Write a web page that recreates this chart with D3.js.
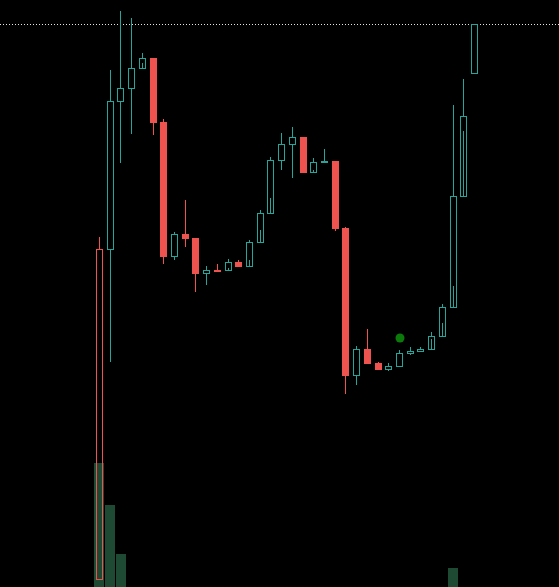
<!DOCTYPE html>
<html>
<head>
<meta charset="utf-8">
<script src="https://cdn.jsdelivr.net/npm/d3@7"></script>
<style>
  html, body { margin: 0; padding: 0; background: #000; }
  svg { display: block; }
</style>
</head>
<body>
<svg id="chart"></svg>
<script>
// price data, one entry per session
const opens  = [2.1, 35.1, 49.9, 51.2, 53.2, 54.2, 47.8, 34.4, 36.6, 36.2, 32.7, 33.0, 32.95, 33.8, 33.4, 35.8, 38.7, 44.0, 45.6, 46.3, 42.8, 43.8, 43.9, 37.2, 22.5, 25.1, 23.7, 23.1, 23.4, 24.7, 24.9, 25.1, 26.4, 29.3, 40.4, 52.7];
const highs  = [36.3, 53.0, 58.9, 58.2, 54.7, 54.2, 48.1, 36.8, 40.0, 36.2, 33.4, 33.6, 34.1, 34.0, 36.0, 39.0, 44.3, 46.7, 47.3, 46.3, 44.2, 45.1, 43.9, 37.3, 25.4, 27.1, 23.8, 23.7, 25.0, 25.3, 25.3, 26.8, 29.6, 49.5, 52.1, 57.6];
const lows   = [2.1, 23.8, 43.7, 46.6, 53.2, 46.5, 33.6, 34.0, 35.3, 30.8, 31.5, 32.9, 32.9, 33.3, 33.4, 35.8, 38.7, 43.0, 42.2, 42.8, 42.8, 43.7, 36.9, 20.6, 21.5, 23.7, 23.0, 22.9, 23.4, 24.5, 24.8, 25.1, 26.4, 29.3, 40.4, 52.7];
const closes = [35.1, 49.9, 51.2, 53.2, 54.2, 47.8, 34.4, 36.6, 36.2, 32.7, 33.0, 32.9, 33.8, 33.4, 35.8, 38.7, 44.0, 45.6, 46.3, 42.8, 43.8, 43.9, 37.2, 22.5, 25.1, 23.7, 23.1, 23.4, 24.7, 24.9, 25.1, 26.4, 29.3, 40.4, 48.4, 57.6];
// inner trace shown inside some hollow bodies (null = none)
const innerTops = [null, null, null, null, 53.7, null, null, null, null, null, null, null, 33.2, null, 34.0, 37.0, 40.2, null, null, null, 43.0, null, null, null, null, null, null, null, null, null, null, 26.1, 27.7, 31.4, 46.9, null];
const volumes = [124, 82, 33, 0, 0, 0, 0, 0, 0, 0, 0, 0, 0, 0, 0, 0, 0, 0, 0, 0, 0, 0, 0, 0, 0, 0, 0, 0, 0, 0, 0, 0, 0, 19, 0, 0];
const prevClose = 36.0;
const lastPrice = 57.6;
const marker = { index: 28, price: 26.2 };

const width = 559;
const height = 587;
const up = '#26a69a';
const down = '#ef5350';

const data = opens.map((o, i) => ({
  i,
  open: o,
  high: highs[i],
  low: lows[i],
  close: closes[i],
  inner: innerTops[i],
  volume: volumes[i],
  prev: i === 0 ? prevClose : closes[i - 1],
}));

const step = 375 / 35;
const x = d3.scaleBand()
  .domain(d3.range(data.length))
  .range([99.5 - step / 2, 99.5 - step / 2 + data.length * step])
  .paddingInner(0.06)
  .paddingOuter(0.03);
const y = d3.scaleLinear().domain([0, 60]).range([600, 0]);
const v = d3.scaleLinear().domain([0, 124]).range([height, 463]);

const svg = d3.select('#chart').attr('width', width).attr('height', height);
svg.append('rect').attr('width', width).attr('height', height).attr('fill', '#000');

// volume
svg.append('g')
  .attr('fill', '#1e4a33')
  .selectAll('rect')
  .data(data.filter(d => d.volume > 0))
  .join('rect')
  .attr('x', d => Math.round(x(d.i)))
  .attr('y', d => Math.round(v(d.volume)))
  .attr('width', Math.round(x.bandwidth()))
  .attr('height', d => v(0) - Math.round(v(d.volume)));

// last price line
svg.append('line')
  .attr('x1', 0).attr('x2', width)
  .attr('y1', Math.round(y(lastPrice)) + 0.5)
  .attr('y2', Math.round(y(lastPrice)) + 0.5)
  .attr('stroke', '#e6e6e6')
  .attr('stroke-dasharray', '1,2');

const cx = d => Math.round(x(d.i) + x.bandwidth() / 2 - 0.5) + 0.5;
const bodyW = 6;
const color = d => (d.close >= d.prev ? up : down);

const candles = svg.append('g').selectAll('g').data(data).join('g');

// wicks
candles.append('line')
  .attr('x1', cx).attr('x2', cx)
  .attr('y1', d => y(d.high))
  .attr('y2', d => y(Math.max(d.open, d.close)))
  .attr('stroke', color);
candles.append('line')
  .attr('x1', cx).attr('x2', cx)
  .attr('y1', d => y(Math.min(d.open, d.close)))
  .attr('y2', d => y(d.low))
  .attr('stroke', color);

// bodies: hollow when close > open, filled otherwise
candles.append('rect')
  .attr('x', d => cx(d) - bodyW / 2)
  .attr('y', d => Math.round(y(Math.max(d.open, d.close))) + 0.5)
  .attr('width', bodyW)
  .attr('height', d => Math.max(1, Math.round(Math.abs(y(d.open) - y(d.close)))))
  .attr('fill', d => (d.close > d.open ? 'none' : color(d)))
  .attr('stroke', color)
  .attr('stroke-width', 1);

candles.filter(d => d.inner != null)
  .append('line')
  .attr('x1', cx).attr('x2', cx)
  .attr('y1', d => y(d.inner))
  .attr('y2', d => y(d.open))
  .attr('stroke', color);

// signal marker
svg.append('circle')
  .attr('cx', cx(data[marker.index]) + 0.5)
  .attr('cy', y(marker.price))
  .attr('r', 4.5)
  .attr('fill', '#0b7a0b');
</script>
</body>
</html>
